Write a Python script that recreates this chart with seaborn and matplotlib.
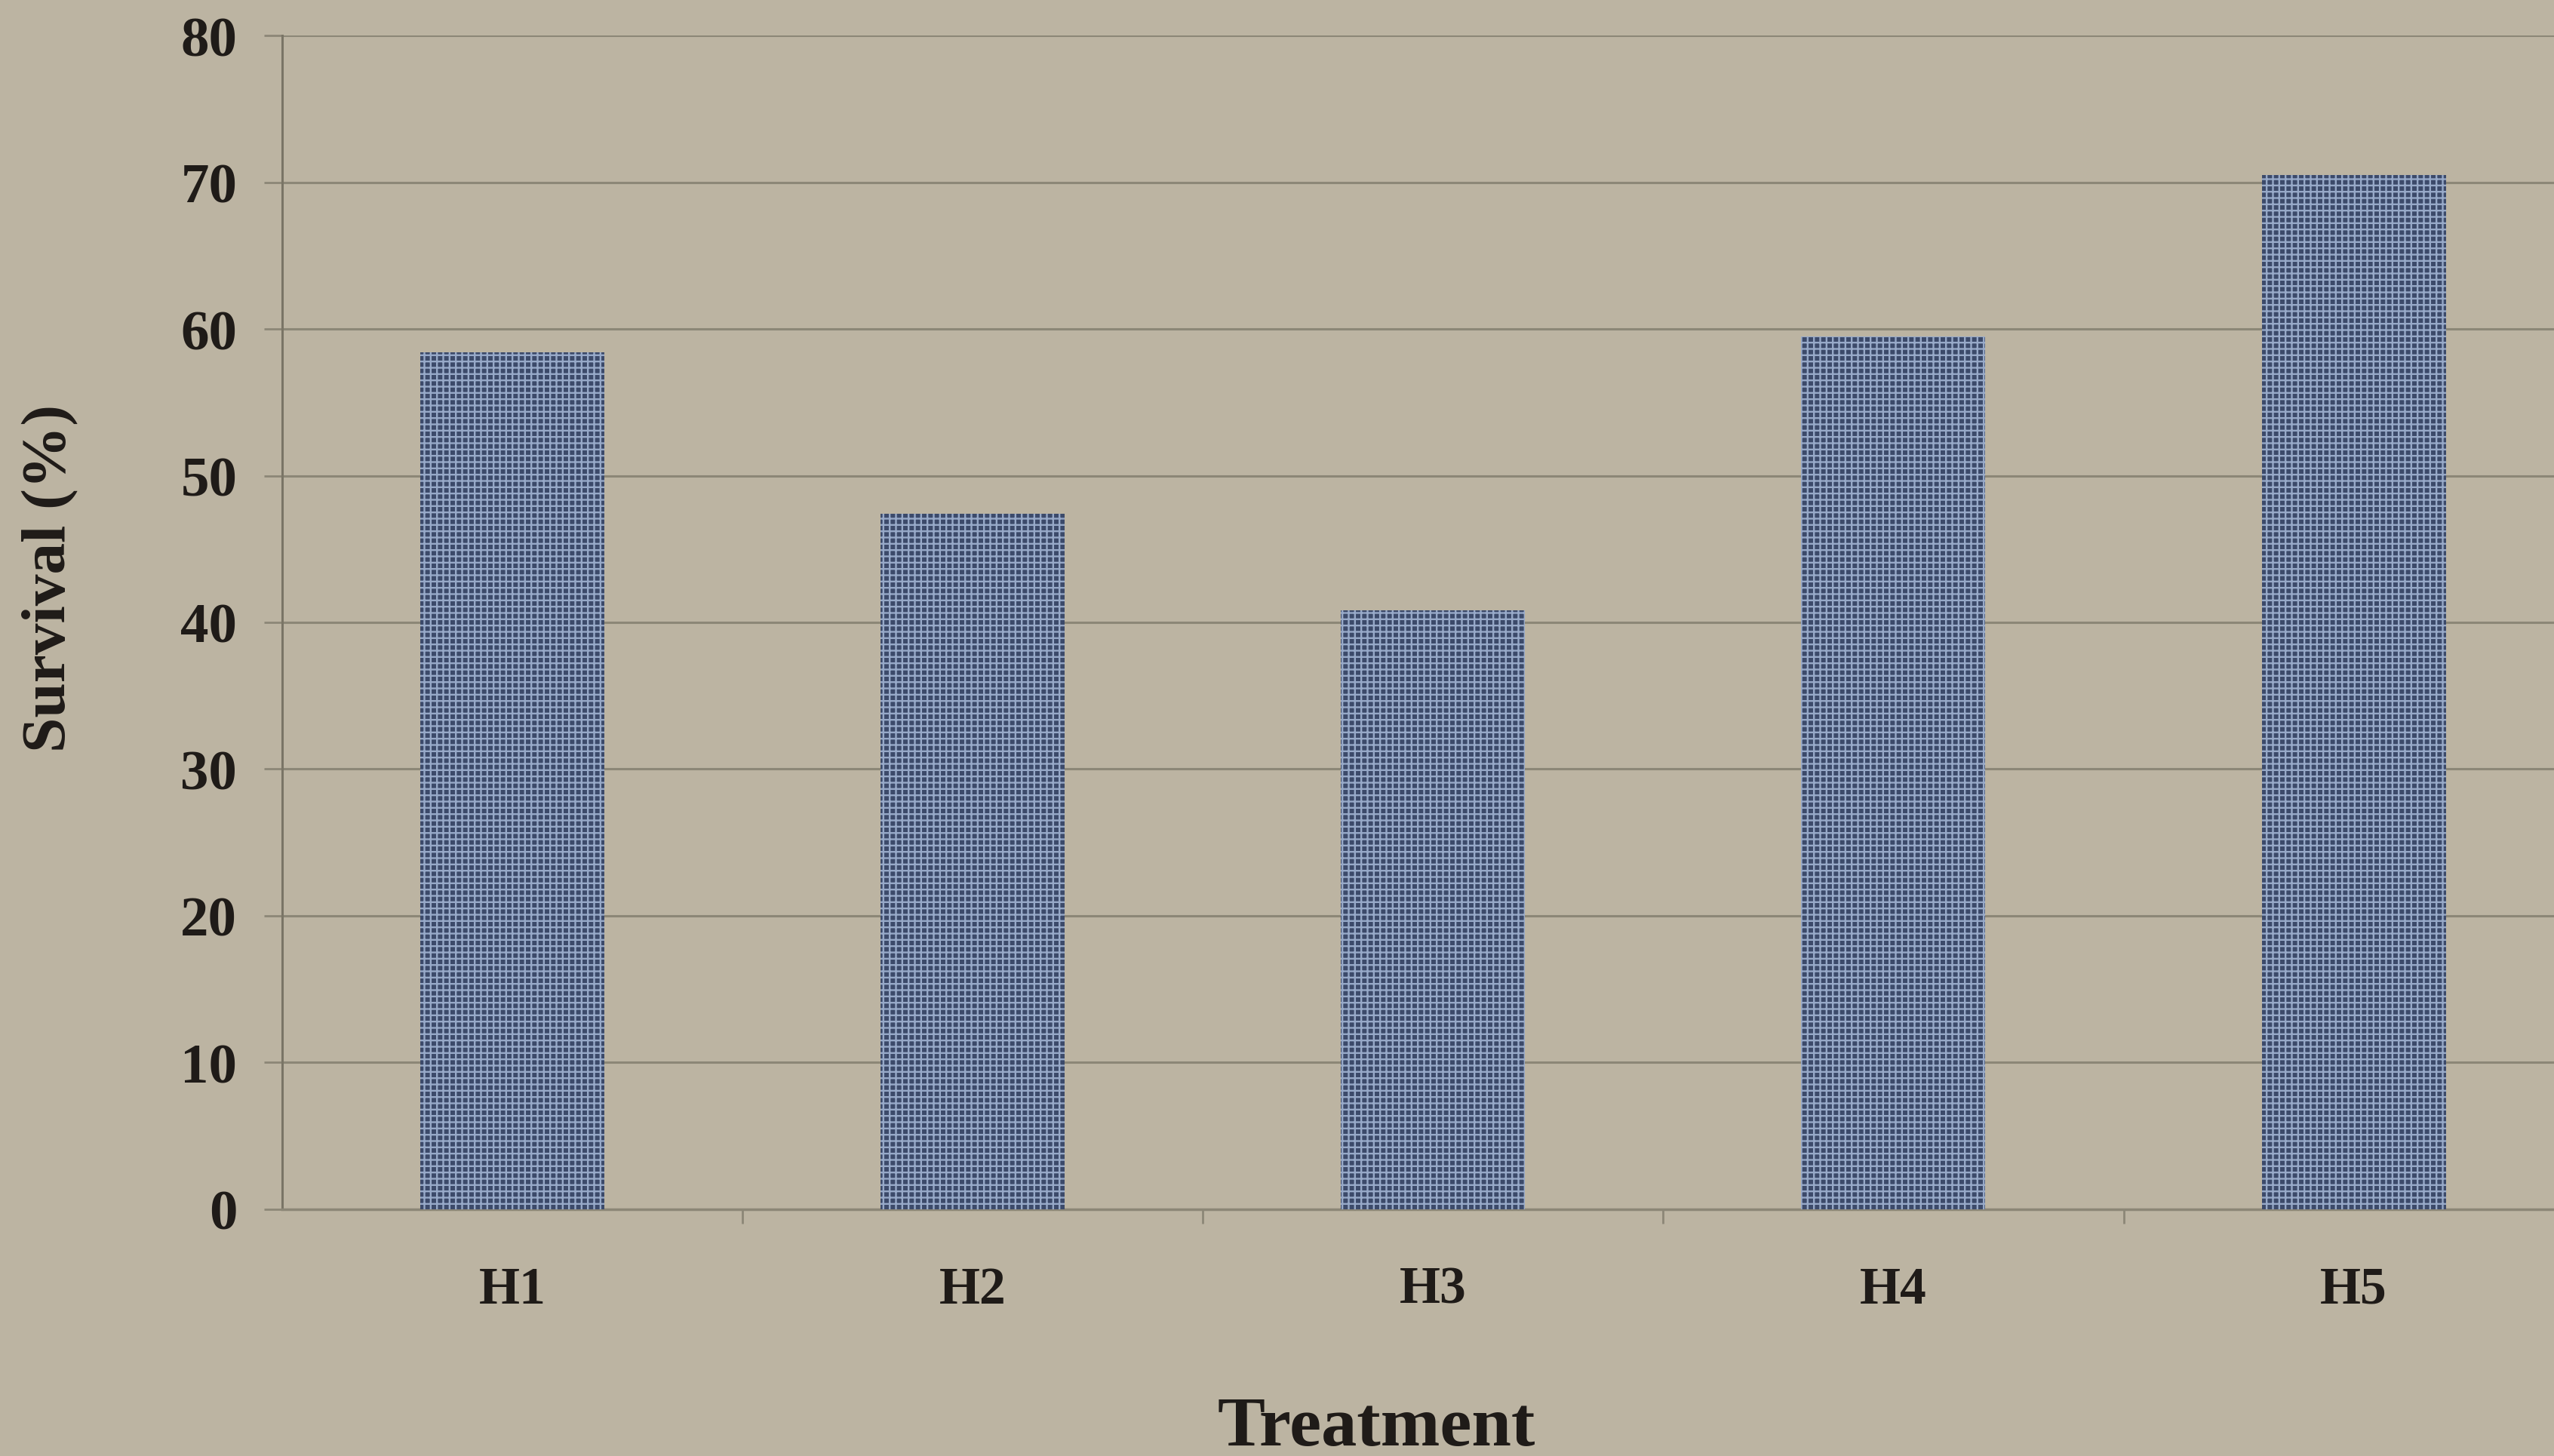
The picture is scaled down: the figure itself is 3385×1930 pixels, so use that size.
import matplotlib
matplotlib.use("Agg")
import matplotlib.pyplot as plt
from matplotlib.ticker import FixedLocator, NullFormatter
import seaborn as sns
import pandas as pd

# Survival per treatment
treatments = ["H1", "H2", "H3", "H4", "H5"]
survival = [58.4, 47.4, 40.8, 59.5, 70.5]
y_ticks = [0, 10, 20, 30, 40, 50, 60, 70, 80]

df = pd.DataFrame({"Treatment": treatments, "Survival": survival})

sns.set_theme(style="white")
plt.rcParams["font.family"] = ["Liberation Serif", "DejaVu Serif"]
plt.rcParams["font.weight"] = "bold"
plt.rcParams["hatch.linewidth"] = 1.7

bg = "#bcb4a2"
ink = "#1f1b18"
grid_c = "#8c8777"

fig = plt.figure(figsize=(33.85, 19.31), dpi=100, facecolor=bg)
ax = fig.add_axes([0.1105, 0.1694, 0.8895, 0.8057])
ax.set_facecolor(bg)

sns.barplot(data=df, x="Treatment", y="Survival", ax=ax, width=0.4,
            color="#3c4a6a", edgecolor="#97a9c8", linewidth=0, saturation=1)
for p in ax.patches:
    p.set_hatch("++")
    p.set_zorder(3)

ax.set_ylim(0, 80)
ax.set_xlim(-0.5, 4.435)
ax.set_yticks(y_ticks)
ax.set_yticklabels([str(t) for t in y_ticks])
ax.yaxis.grid(True, color=grid_c, linewidth=2.2)
ax.set_axisbelow(True)

# category boundaries carry the tick marks
ax.xaxis.set_minor_locator(FixedLocator([0.5, 1.5, 2.5, 3.5]))
ax.xaxis.set_minor_formatter(NullFormatter())
ax.tick_params(axis="x", which="major", length=0, pad=54, labelsize=50, colors=ink)
ax.tick_params(axis="x", which="minor", length=14, width=2, color=grid_c, direction="out", bottom=True)
ax.tick_params(axis="y", which="major", length=17, width=2, color=grid_c, direction="out",
               left=True, pad=26, labelsize=54, labelcolor=ink)

for side in ["top", "right"]:
    ax.spines[side].set_visible(False)
ax.spines["left"].set_color("#7a7566")
ax.spines["left"].set_linewidth(2.2)
ax.spines["bottom"].set_color(grid_c)
ax.spines["bottom"].set_linewidth(2.5)

ax.set_xlabel("Treatment", fontsize=68, fontweight="bold", color=ink)
ax.xaxis.set_label_coords(0.4816, -0.159)
ax.set_ylabel("Survival (%)", fontsize=60, fontweight="bold", color=ink)
ax.yaxis.set_label_coords(-0.0897, 0.538)

fig.savefig("out.png", dpi=100, facecolor=bg)
